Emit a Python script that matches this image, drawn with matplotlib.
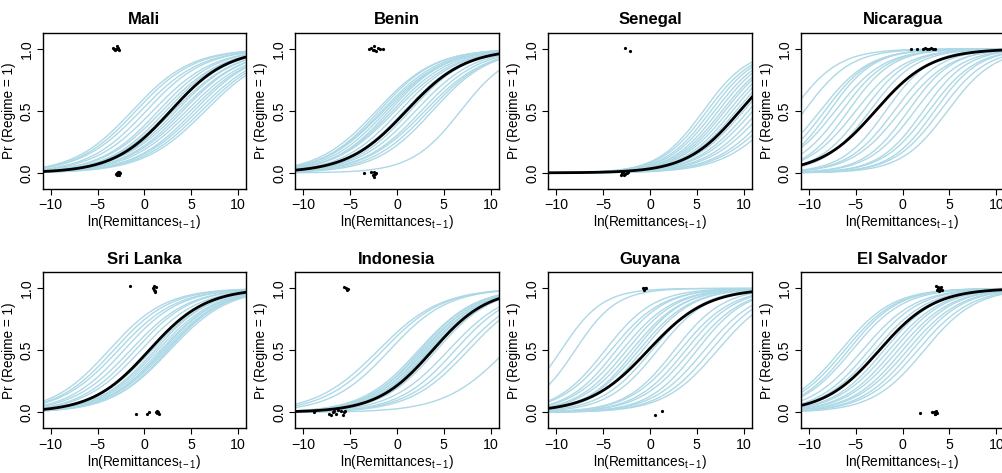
import numpy as np
import matplotlib
matplotlib.use("Agg")
import matplotlib.pyplot as plt

plt.rcParams['font.family'] = ['Liberation Sans', 'DejaVu Sans']

countries = ["Mali", "Benin", "Senegal", "Nicaragua",
             "Sri Lanka", "Indonesia", "Guyana", "El Salvador"]

# black (point estimate) curve: midpoint and slope of the logit
main_mid = [2.8, 1.0, 9.6, -2.9, 0.5, 3.8, -0.2, -2.5]
main_slope = [0.33, 0.32, 0.35, 0.34, 0.33, 0.34, 0.32, 0.34]

# light blue (simulated) curves, per country
mali_mid = [-1.3, -0.9, -0.4, 0.2, 0.9, 1.5, 1.9, 2.3, 2.7, 3.1, 3.4, 3.8, 4.1, 4.5, 4.9, 5.3, 5.7, 6.1, 6.5]
mali_slope = [0.32, 0.32, 0.31, 0.32, 0.31, 0.32, 0.31, 0.32, 0.31, 0.30, 0.31, 0.30, 0.31, 0.30, 0.30, 0.31, 0.30, 0.30, 0.30]

benin_mid = [-2.2, -1.9, -1.6, -1.4, -1.1, -0.8, -0.5, -0.2, 0.3, 0.8, 1.4, 2.0, 2.6, 3.0, 3.4, 3.8, 6.8]
benin_slope = [0.32, 0.33, 0.32, 0.31, 0.32, 0.33, 0.32, 0.31, 0.32, 0.32, 0.33, 0.32, 0.32, 0.31, 0.32, 0.33, 0.38]

senegal_mid = [5.7, 6.1, 6.5, 6.9, 7.3, 7.7, 8.0, 8.4, 8.8, 9.2, 9.6, 10.0, 10.5, 11.0, 11.6, 12.2, 12.9, 13.5, 14.1]
senegal_slope = [0.41, 0.40, 0.40, 0.39, 0.39, 0.38, 0.38, 0.37, 0.37, 0.36, 0.36, 0.35, 0.35, 0.34, 0.34, 0.33, 0.33, 0.32, 0.32]

nicaragua_mid = [-11.8, -10.5, -8.8, -8.3, -7.8, -7.2, -6.5, -5.8, -5.0, -4.2, -3.5, -1.8, -0.9, -0.2, 0.6, 1.3, 2.2, 2.8, 3.4, 4.0, 4.8]
nicaragua_slope = [0.40, 0.40, 0.38, 0.40, 0.42, 0.38, 0.40, 0.42, 0.38, 0.40, 0.40, 0.42, 0.40, 0.38, 0.42, 0.40, 0.42, 0.40, 0.42, 0.40, 0.40]

srilanka_mid = [-3.8, -3.3, -2.8, -2.2, -1.5, -1.0, -0.4, 0.8, 1.1, 1.4, 1.7, 1.9, 2.1, 2.3, 2.5, 2.7]
srilanka_slope = [0.33, 0.33, 0.32, 0.33, 0.32, 0.33, 0.32, 0.32, 0.33, 0.32, 0.32, 0.33, 0.32, 0.32, 0.33, 0.32]

indonesia_mid = [-2.0, -1.5, -0.8, 2.3, 2.5, 2.7, 2.9, 3.1, 3.3, 3.5, 3.6, 4.2, 5.5, 6.2, 7.0, 7.6, 11.7]
indonesia_slope = [0.30, 0.31, 0.32, 0.33, 0.34, 0.33, 0.34, 0.33, 0.34, 0.33, 0.34, 0.34, 0.32, 0.33, 0.32, 0.32, 0.30]

guyana_mid = [-9.5, -8.0, -4.8, -4.2, -3.6, -3.0, -2.5, -2.0, -1.6, -1.2, -0.8, 0.2, 0.8, 2.6, 3.2, 3.8, 4.4, 5.0, 5.8, 6.5, 7.2]
guyana_slope = [0.45, 0.45, 0.38, 0.36, 0.38, 0.36, 0.37, 0.36, 0.38, 0.36, 0.37, 0.36, 0.37, 0.38, 0.36, 0.37, 0.36, 0.38, 0.36, 0.36, 0.35]

salvador_mid = [-6.6, -6.2, -5.8, -5.4, -4.3, -3.6, -3.0, -2.0, -1.5, -1.0, -0.5, 0.0, 0.5, 1.0, 1.6, 2.3]
salvador_slope = [0.36, 0.36, 0.37, 0.36, 0.35, 0.36, 0.35, 0.36, 0.35, 0.36, 0.35, 0.36, 0.35, 0.36, 0.35, 0.36]

blue_mid = [mali_mid, benin_mid, senegal_mid, nicaragua_mid,
            srilanka_mid, indonesia_mid, guyana_mid, salvador_mid]
blue_slope = [mali_slope, benin_slope, senegal_slope, nicaragua_slope,
              srilanka_slope, indonesia_slope, guyana_slope, salvador_slope]

# observed regime values (jittered around 0 and 1)
mali_pts_x = [-3.3, -3.1, -3.0, -2.9, -2.8, -2.7, -3.2, -2.85, -3.0, -2.9, -2.8, -2.7, -2.6, -2.95, -2.75]
mali_pts_y = [1.01, 0.99, 1.0, 1.02, 1.0, 0.99, 1.0, 1.01, -0.01, 0.0, 0.01, -0.02, 0.0, -0.02, 0.01]

benin_pts_x = [-3.0, -2.8, -2.6, -2.4, -2.2, -2.0, -1.8, -1.5, -2.5, -3.5, -2.8, -2.6, -2.4, -2.3, -2.2, -2.5]
benin_pts_y = [1.0, 1.01, 0.99, 1.02, 0.98, 1.01, 1.0, 1.0, 0.99, 0.0, 0.01, -0.02, 0.01, -0.01, 0.0, -0.03]

senegal_pts_x = [-2.7, -2.1, -3.1, -3.0, -2.9, -2.7, -2.5, -2.3, -2.8]
senegal_pts_y = [1.005, 0.98, -0.02, 0.0, 0.01, -0.01, 0.0, 0.01, -0.015]

nicaragua_pts_x = [0.9, 1.5, 2.2, 2.4, 2.6, 2.8, 3.0, 3.2, 3.4]
nicaragua_pts_y = [1.0, 1.0, 0.995, 1.005, 1.0, 0.995, 1.005, 1.0, 1.0]

srilanka_pts_x = [-1.5, 0.9, 1.0, 1.1, 1.2, 1.0, 1.15, -0.9, 0.3, 0.5, 1.2, 1.3, 1.4, 1.5, 1.6]
srilanka_pts_y = [1.02, 1.0, 1.02, 0.98, 1.01, 0.99, 0.97, -0.015, -0.01, 0.005, 0.005, 0.01, -0.005, 0.0, -0.01]

indonesia_pts_x = [-5.6, -5.4, -5.2, -5.3, -8.9, -7.3, -7.0, -6.7, -6.5, -6.3, -6.0, -5.8, -5.6, -5.5, -6.8]
indonesia_pts_y = [1.01, 1.0, 0.995, 0.99, 0.0, -0.01, -0.02, 0.01, -0.015, 0.02, 0.01, -0.02, 0.0, 0.015, 0.005]

guyana_pts_x = [-0.7, -0.6, -0.5, -0.4, 0.5, 1.3]
guyana_pts_y = [1.0, 0.99, 1.005, 1.0, -0.02, 0.013]

salvador_pts_x = [3.6, 3.7, 3.8, 3.9, 4.0, 4.1, 4.2, 3.75, 3.95, 1.8, 3.1, 3.3, 3.5, 3.6, 3.7, 3.4]
salvador_pts_y = [1.02, 0.99, 1.01, 0.98, 1.0, 1.01, 0.99, 1.0, 0.985, -0.005, 0.005, 0.0, -0.01, 0.01, -0.005, -0.015]

pts_x = [mali_pts_x, benin_pts_x, senegal_pts_x, nicaragua_pts_x,
         srilanka_pts_x, indonesia_pts_x, guyana_pts_x, salvador_pts_x]
pts_y = [mali_pts_y, benin_pts_y, senegal_pts_y, nicaragua_pts_y,
         srilanka_pts_y, indonesia_pts_y, guyana_pts_y, salvador_pts_y]


def logistic(x, mid, slope):
    return 1.0 / (1.0 + np.exp(-slope * (x - mid)))


# MAKE PLOTS
fig = plt.figure(figsize=(10.03, 4.73), dpi=100)

lefts = [0.0426, 0.2944, 0.5467, 0.7986]
bottoms = [0.6004, 0.0941]
w = 0.2027
h = 0.3304

xs = np.linspace(-11, 11, 300)

for i, name in enumerate(countries):
    ax = fig.add_axes([lefts[i % 4], bottoms[i // 4], w, h])

    for m, s in zip(blue_mid[i], blue_slope[i]):
        ax.plot(xs, logistic(xs, m, s), color='#ADD8E6', lw=1.0)
    ax.plot(xs, logistic(xs, main_mid[i], main_slope[i]), color='black', lw=2.0)
    ax.plot(pts_x[i], pts_y[i], 'o', color='black', markersize=2.3, markeredgewidth=0)

    ax.set_xlim(-10.85, 10.85)
    ax.set_ylim(-0.13, 1.13)
    ax.set_xticks([-10, -5, 0, 5, 10])
    ax.set_xticklabels(['\u221210', '\u22125', '0', '5', '10'])
    ax.set_yticks([0.0, 0.5, 1.0])
    ax.set_yticklabels(['0.0', '0.5', '1.0'], rotation=90, va='center')
    ax.tick_params(direction='out', length=4.5, width=0.8, labelsize=10.2, pad=2)
    for sp in ax.spines.values():
        sp.set_linewidth(1.0)

    ax.set_title(name, fontsize=12, fontweight='bold', pad=6)
    ax.set_ylabel('Pr (Regime = 1)', fontsize=9.8, labelpad=3)
    ax.set_xlabel(r'ln(Remittances$_{\mathregular{t-1}}$)', fontsize=9.8, labelpad=1)

fig.savefig('out.png', dpi=100)
